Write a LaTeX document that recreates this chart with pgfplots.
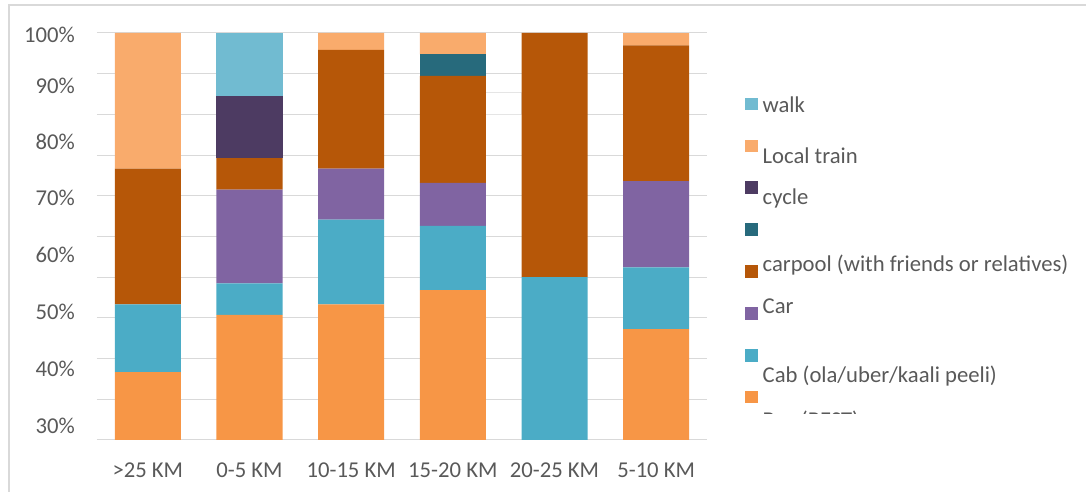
\documentclass[border=0pt]{standalone}
\usepackage{fontspec}
\setmainfont{Carlito}
\usepackage{pgfplots}
\pgfplotsset{compat=1.18}

\definecolor{busc}{HTML}{F79646}
\definecolor{cabc}{HTML}{4BACC6}
\definecolor{carc}{HTML}{8064A2}
\definecolor{poolc}{HTML}{B65708}
\definecolor{tealc}{HTML}{276A7C}
\definecolor{cyclec}{HTML}{4D3B62}
\definecolor{trainc}{HTML}{F9AB6C}
\definecolor{walkc}{HTML}{71BBD1}
\definecolor{gridc}{HTML}{D9D9D9}
\definecolor{txt}{HTML}{595959}

\newcommand{\lf}{\fontsize{17pt}{20pt}\selectfont}

\pgfplotsset{
  sq/.style={fill=#1, draw=none,
    legend image code/.code={\fill[#1] (0pt,-4.75pt) rectangle (9.5pt,4.75pt);}},
}

\begin{document}
\begin{tikzpicture}
\path[use as bounding box] (-72.75pt,-39pt) rectangle (741.75pt,330pt);
% chart frame
\draw[gridc, line width=1.1pt] (-66pt,-50pt) -- (-66pt,326.25pt) -- (760pt,326.25pt);
\begin{axis}[
  at={(0pt,0pt)}, anchor=south west,
  scale only axis, width=457.5pt, height=305.25pt,
  ybar stacked, bar width=49.5pt,
  xmin=-0.5, xmax=5.5, ymin=0, ymax=100,
  axis line style={draw=none},
  tick style={draw=none},
  major tick length=0pt,
  xtick={0,1,2,3,4,5},
  xticklabels={>25 KM, 0-5 KM, 10-15 KM, 15-20 KM, 20-25 KM, 5-10 KM},
  xticklabel style={inner sep=0pt, anchor=north, yshift=-17.25pt, font=\lf, text=txt},
  ytick={0,10,...,100}, yticklabels={},
  ymajorgrids, major grid style={gridc, line width=0.75pt},
  yticklabel style={inner sep=0pt, anchor=east, xshift=-16.5pt, font=\lf, text=txt},
  extra y ticks={3.5,17.5,31.4,45.4,59.4,73.2,86.9,99.5},
  extra y tick labels={30\%,40\%,50\%,60\%,70\%,80\%,90\%,100\%},
  extra y tick style={grid=none, major tick length=0pt},
  reverse legend,
  legend style={at={(1.0623,0.841)}, anchor=north west, draw=none, fill=none,
    inner sep=0pt, outer sep=0pt, row sep=21.9pt, column sep=3.75pt,
    font=\lf, text=txt,
    nodes={inner sep=0pt, text depth=0pt}, cells={anchor=west}},
]
% Bus (BEST)
\addplot[sq=busc] coordinates {(0,16.67) (1,30.77) (2,33.33) (3,36.84) (4,0) (5,27.27)};
\addlegendentry{\raisebox{-23pt}[0pt][0pt]{Bus (BEST)}}
% Cab
\addplot[sq=cabc] coordinates {(0,16.67) (1,7.69) (2,20.83) (3,15.79) (4,40) (5,15.15)};
\addlegendentry{\raisebox{-20.3pt}[0pt][0pt]{Cab (ola/uber/kaali peeli)}}
% Car
\addplot[sq=carc] coordinates {(0,0) (1,23.08) (2,12.5) (3,10.53) (4,0) (5,21.21)};
\addlegendentry{\raisebox{0pt}[0pt][0pt]{Car}}
% carpool
\addplot[sq=poolc] coordinates {(0,33.33) (1,7.69) (2,29.17) (3,26.32) (4,60) (5,33.33)};
\addlegendentry{\raisebox{0pt}[0pt][0pt]{carpool (with friends or relatives)}}
% unnamed series
\addplot[sq=tealc] coordinates {(0,0) (1,0) (2,0) (3,5.26) (4,0) (5,0)};
\addlegendentry{\raisebox{0pt}[0pt][0pt]{}}
% cycle
\addplot[sq=cyclec] coordinates {(0,0) (1,15.38) (2,0) (3,0) (4,0) (5,0)};
\addlegendentry{\raisebox{-12.9pt}[0pt][0pt]{cycle}}
% Local train
\addplot[sq=trainc] coordinates {(0,33.33) (1,0) (2,4.17) (3,5.26) (4,0) (5,3.03)};
\addlegendentry{\raisebox{-13.4pt}[0pt][0pt]{Local train}}
% walk
\addplot[sq=walkc] coordinates {(0,0) (1,15.38) (2,0) (3,0) (4,0) (5,0)};
\addlegendentry{\raisebox{-6.5pt}[0pt][0pt]{walk}}
% leftover empty label box between the 15-20 and 20-25 KM bars
\draw[draw=black!10, fill=white, line width=0.5pt] (axis cs:3.306,80.1) rectangle (axis cs:3.67,85.3);
\draw[gridc, line width=0.75pt] (axis cs:3.306,80) -- (axis cs:3.72,80);
\end{axis}
% the last legend entry is cut off at the bottom of the plot area
\fill[white] (482pt,-3pt) rectangle (742pt,19.5pt);
\end{tikzpicture}
\end{document}
